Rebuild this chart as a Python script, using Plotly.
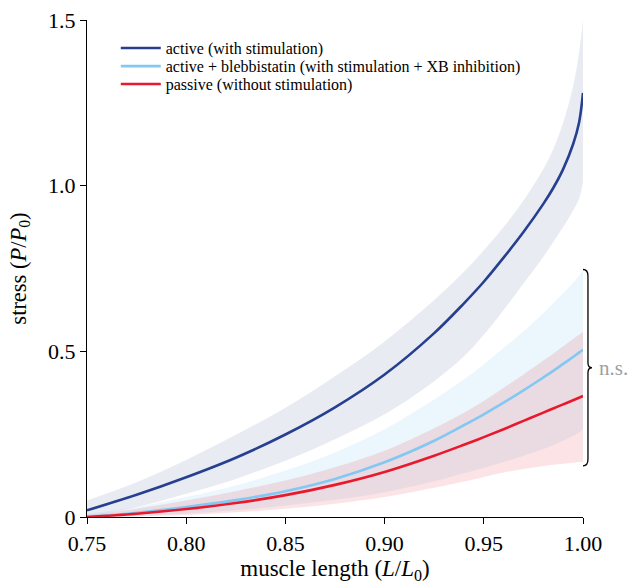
import plotly.graph_objects as go

# ---- data ----
x = [0.75, 0.775, 0.80, 0.825, 0.85, 0.875, 0.90, 0.925, 0.94, 0.95, 0.96, 0.97,
     0.98, 0.985, 0.99, 0.995, 0.998, 1.00]

active_mean = [0.02, 0.067, 0.12, 0.179, 0.249, 0.331, 0.43, 0.555, 0.645, 0.71, 0.783, 0.86,
               0.945, 0.993, 1.05, 1.125, 1.19, 1.28]
active_upper = [0.05, 0.105, 0.172, 0.248, 0.33, 0.425, 0.53, 0.655, 0.74, 0.805, 0.875, 0.955,
                1.05, 1.11, 1.19, 1.30, 1.40, 1.50]
active_lower = [0.0, 0.03, 0.07, 0.115, 0.17, 0.235, 0.31, 0.41, 0.485, 0.55, 0.625, 0.705,
                0.785, 0.83, 0.875, 0.925, 0.96, 1.01]

bleb_mean = [0.0, 0.013, 0.03, 0.051, 0.078, 0.115, 0.165, 0.23, 0.277, 0.31, 0.345, 0.382,
             0.421, 0.441, 0.462, 0.483, 0.496, 0.505]
bleb_upper = [0.01, 0.03, 0.06, 0.095, 0.14, 0.195, 0.265, 0.355, 0.415, 0.46, 0.51, 0.56,
              0.615, 0.645, 0.675, 0.707, 0.727, 0.745]
bleb_lower = [0.0, 0.003, 0.01, 0.02, 0.035, 0.052, 0.075, 0.108, 0.132, 0.148, 0.166, 0.185,
              0.205, 0.217, 0.23, 0.245, 0.255, 0.265]

pass_mean = [0.0, 0.01, 0.024, 0.042, 0.066, 0.097, 0.136, 0.185, 0.218, 0.241, 0.265, 0.29,
             0.315, 0.3275, 0.34, 0.3525, 0.36, 0.365]
pass_upper = [0.005, 0.025, 0.05, 0.078, 0.11, 0.15, 0.20, 0.268, 0.315, 0.35, 0.39, 0.43,
              0.472, 0.493, 0.515, 0.537, 0.55, 0.56]
pass_lower = [0.0, 0.002, 0.006, 0.014, 0.025, 0.04, 0.06, 0.088, 0.107, 0.121, 0.134, 0.145,
              0.154, 0.158, 0.161, 0.164, 0.166, 0.167]

x_ticks = [0.75, 0.80, 0.85, 0.90, 0.95, 1.00]
x_ticklabels = ["0.75", "0.80", "0.85", "0.90", "0.95", "1.00"]
y_ticks = [0, 0.5, 1.0, 1.5]
y_ticklabels = ["0", "0.5", "1.0", "1.5"]

names = ["active (with stimulation)",
         "active + blebbistatin (with stimulation + XB inhibition)",
         "passive (without stimulation)"]

# bracket span (stress values) for the n.s. marker
bracket_top, bracket_bottom = 0.747, 0.154

FONT = "Times New Roman, Liberation Serif, serif"
C_ACTIVE = "#263f8e"
C_BLEB = "#82c8f2"
C_PASS = "#e8192c"

fig = go.Figure()

def band(lower, upper, fillcolor):
    fig.add_trace(go.Scatter(x=x, y=lower, mode="lines", line=dict(width=0, shape="spline"),
                             showlegend=False, hoverinfo="skip"))
    fig.add_trace(go.Scatter(x=x, y=upper, mode="lines", line=dict(width=0, shape="spline"),
                             fill="tonexty", fillcolor=fillcolor, showlegend=False, hoverinfo="skip"))

band(active_lower, active_upper, "rgba(38,63,142,0.10)")
band(bleb_lower, bleb_upper, "rgba(130,200,242,0.16)")
band(pass_lower, pass_upper, "rgba(232,25,44,0.12)")

for ys, nm, col, lg in [(active_mean, names[0], C_ACTIVE, "legend"),
                        (bleb_mean, names[1], C_BLEB, "legend2"),
                        (pass_mean, names[2], C_PASS, "legend3")]:
    fig.add_trace(go.Scatter(x=x, y=ys, mode="lines", name=nm, legend=lg,
                             line=dict(color=col, width=2.6, shape="spline")))

# bracket "}" drawn in paper-x / data-y coordinates
mid = (bracket_top + bracket_bottom) / 2
xl, xm, xr = 1.0, 1.010, 1.018
path = (f"M {xl},{bracket_top} Q {xm},{bracket_top} {xm},{bracket_top-0.02} "
        f"L {xm},{mid+0.015} Q {xm},{mid} {xr},{mid} Q {xm},{mid} {xm},{mid-0.015} "
        f"L {xm},{bracket_bottom+0.02} Q {xm},{bracket_bottom} {xl},{bracket_bottom}")
fig.add_shape(type="path", path=path, xref="paper", yref="y",
              line=dict(color="black", width=1.3))
fig.add_annotation(x=1.028, y=mid, xref="paper", yref="y", text="n.s.", showarrow=False,
                   xanchor="left", yanchor="middle",
                   font=dict(family=FONT, size=21, color="#a0a0a0"))

leg_common = dict(x=0.058, xanchor="left", yanchor="middle",
                  font=dict(family=FONT, size=16, color="black"),
                  bgcolor="rgba(0,0,0,0)", itemwidth=40)

fig.update_layout(
    width=632, height=584,
    margin=dict(l=87, r=49, t=20, b=67, autoexpand=False),
    paper_bgcolor="white", plot_bgcolor="white",
    font=dict(family=FONT, color="black"),
    legend=dict(y=0.9435, **leg_common),
    legend2=dict(y=0.907, **leg_common),
    legend3=dict(y=0.871, **leg_common),
    showlegend=True,
)
fig.update_xaxes(range=[0.75, 1.0], tickvals=x_ticks, ticktext=x_ticklabels, automargin=False,
                 showgrid=False, zeroline=False, showline=True, linecolor="black", linewidth=1.2,
                 ticks="outside", ticklen=6, tickcolor="black", tickfont=dict(family=FONT, size=22),
                 title=dict(text="muscle length (<i>L</i>/<i>L</i><sub>0</sub>)",
                            font=dict(family=FONT, size=23), standoff=6))
fig.update_yaxes(range=[0, 1.5], tickvals=y_ticks, ticktext=y_ticklabels, automargin=False,
                 showgrid=False, zeroline=False, showline=True, linecolor="black", linewidth=1.2,
                 ticks="outside", ticklen=6, tickcolor="black", tickfont=dict(family=FONT, size=22),
                 title=dict(text="stress (<i>P</i>/<i>P</i><sub>0</sub>)",
                            font=dict(family=FONT, size=22.5), standoff=15))

fig.write_html("out.html", config={"displayModeBar": False},
               post_script="document.body.style.margin='0';")
